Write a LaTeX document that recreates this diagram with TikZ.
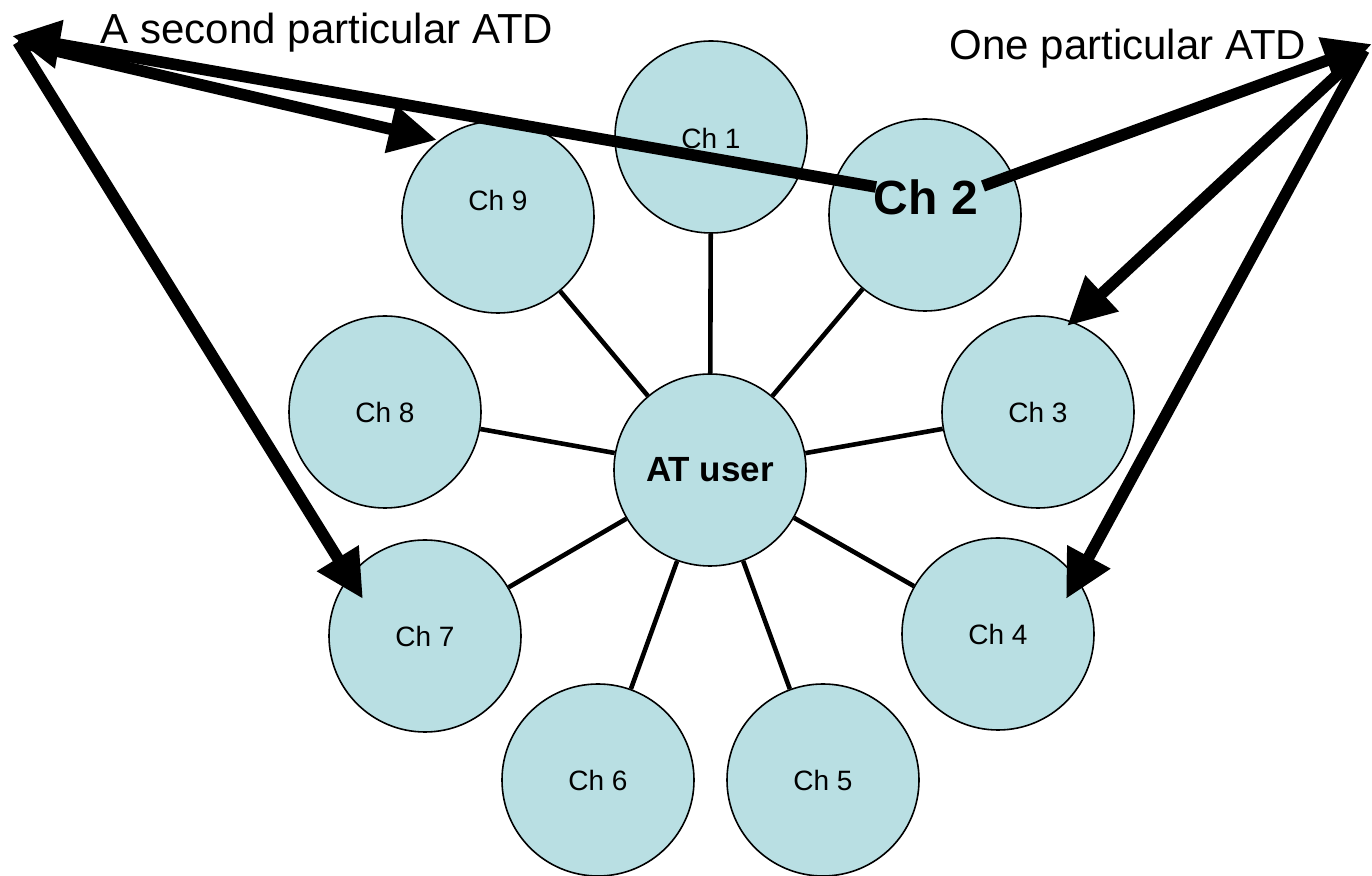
\documentclass[tikz,border=0pt]{standalone}
\usepackage{fontspec}
\setmainfont{Liberation Sans}
\usetikzlibrary{arrows.meta}
\definecolor{chfill}{RGB}{185,223,227}
\begin{document}
\begin{tikzpicture}[x=0.5pt,y=-0.5pt,
  chan/.style={circle,draw=black,line width=0.8pt,fill=chfill,minimum size=96pt,inner sep=0pt,font=\fontsize{14}{16}\selectfont},
  chlbl/.style={inner sep=0pt,font=\fontsize{14}{16}\selectfont},
  spoke/.style={line width=2.3pt},
  bigarrow/.style={line width=5.8pt,-{Triangle[length=24pt,width=23pt]}},
  title/.style={inner sep=0pt,anchor=base,font=\fontsize{21}{24}\selectfont}]
\useasboundingbox (0,0) rectangle (1372,876);
% circles
\node[chan] (c1) at (711,137) {};
\node[chlbl] (l1) at (711,138) {Ch 1};
\node[chan] (c2) at (925,215) {};
\node[chan] (c3) at (1038,412) {Ch 3};
\node[chan] (c4) at (998,634) {Ch 4};
\node[chan] (c5) at (823,780) {Ch 5};
\node[chan] (c6) at (598,780) {Ch 6};
\node[chan] (c7) at (425,636) {Ch 7};
\node[chan] (c8) at (385,412) {Ch 8};
\node[chan] (c9) at (498,217) {};
\node[chlbl] (l9) at (498,200) {Ch 9};
\node[chan,font=\bfseries\fontsize{17.5}{20}\selectfont] (at) at (710,470) {AT user};
% spokes
\foreach \c in {c1,c2,c3,c4,c5,c6,c7,c8,c9}
  \draw[spoke] (at) -- (\c);
% Ch 2 bold label
\node[inner sep=0pt,font=\bfseries\fontsize{24}{28}\selectfont] (l2) at (926,197) {Ch 2};
% titles
\node[title] (tl) at (327,44) {A second particular ATD};
\node[title] (tr) at (1128,60) {One particular ATD};
% ATD corners and arrow tips
\coordinate (L) at (12,36);
\coordinate (Ls) at (18,42);
\coordinate (R) at (1372,44);
\coordinate (Rs) at (1364,50);
\coordinate (c2l) at (876,187);
\coordinate (c2r) at (983,186);
\coordinate (t9) at (437,140);
\coordinate (t7) at (363,599);
\coordinate (t3) at (1067,326);
\coordinate (t4) at (1066,599);
\draw[bigarrow] (c2l) -- (L);
\draw[bigarrow] (c2r) -- (R);
\draw[bigarrow] (Ls) -- (t9);
\draw[bigarrow] (Ls) -- (t7);
\draw[bigarrow] (Rs) -- (t3);
\draw[bigarrow] (Rs) -- (t4);
\end{tikzpicture}
\end{document}
